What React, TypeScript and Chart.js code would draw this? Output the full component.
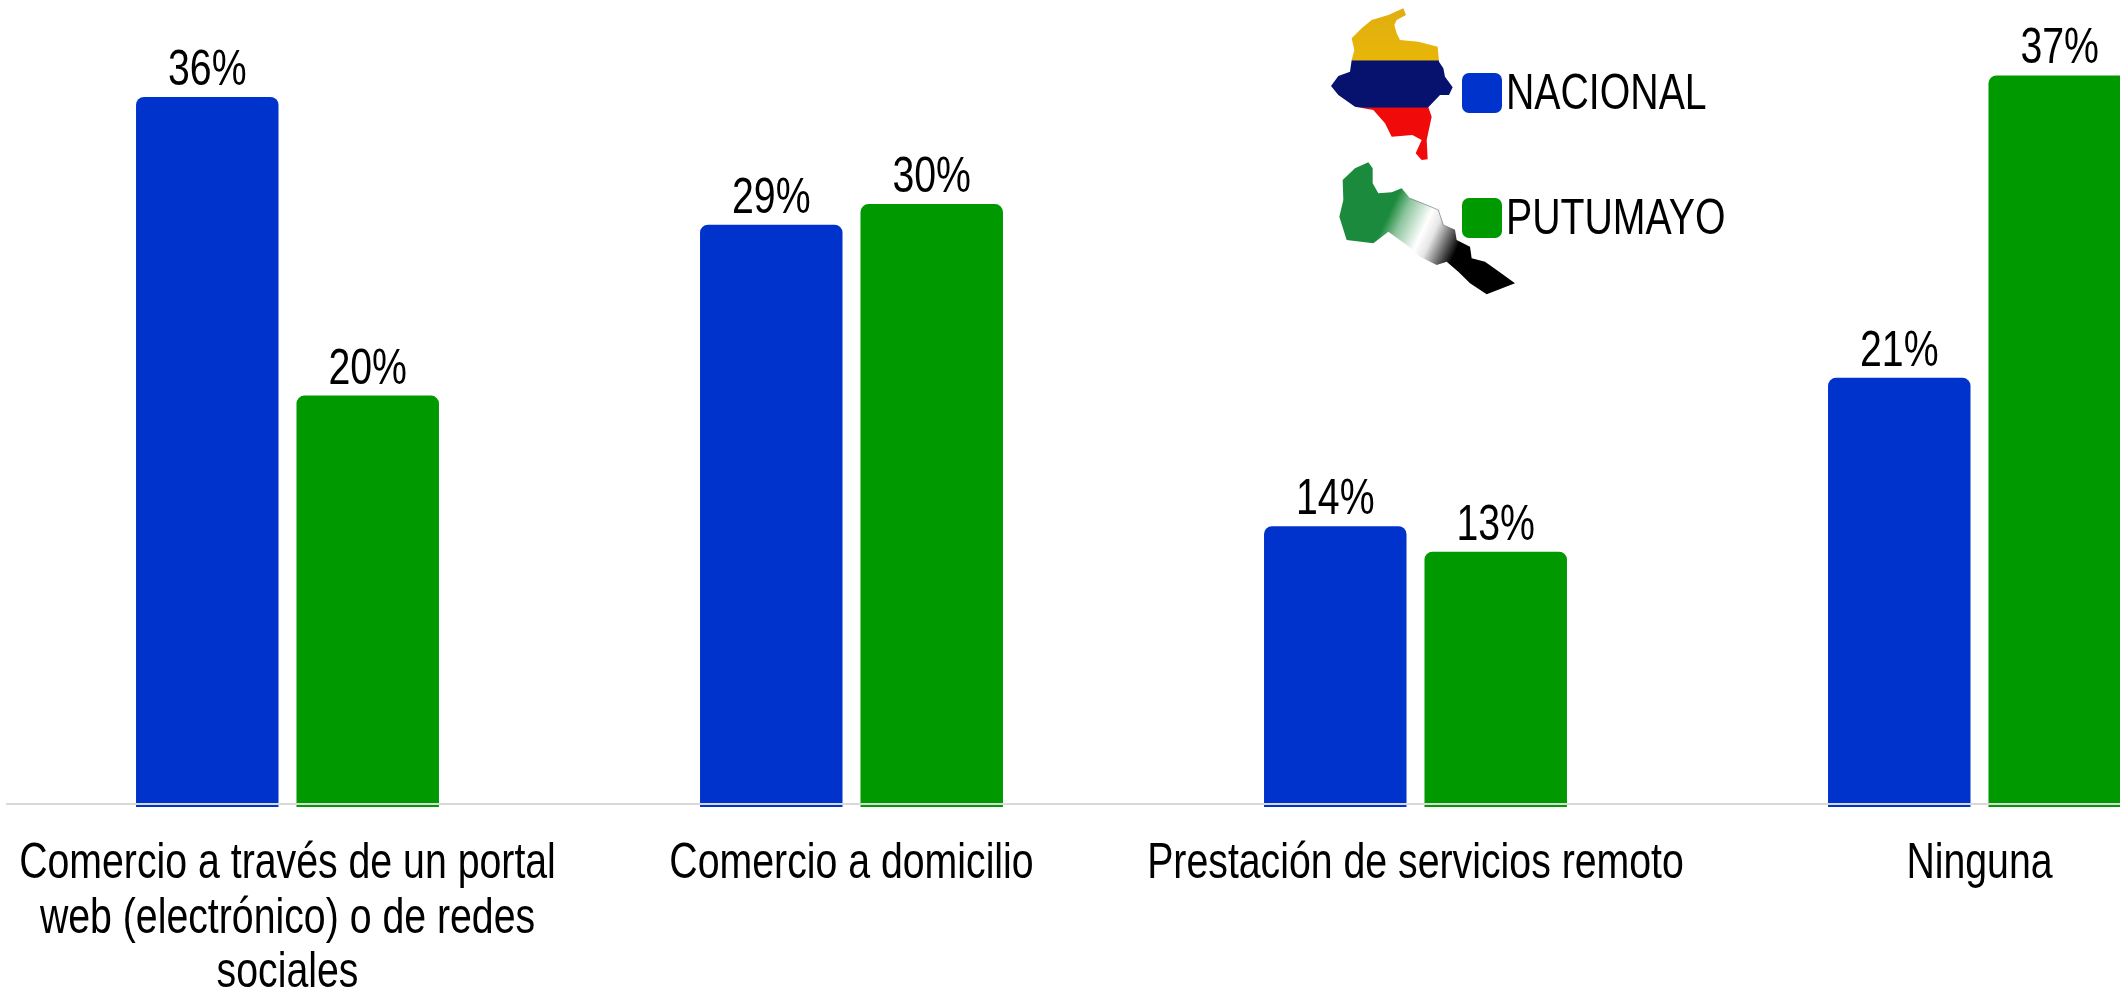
import React, { useEffect, useRef } from "react";
import { Chart, registerables } from "chart.js";

Chart.register(...registerables);

const categories = [
  ["Comercio a través de un portal", "web (electrónico) o de redes", "sociales"],
  ["Comercio a domicilio"],
  ["Prestación de servicios remoto"],
  ["Ninguna"],
];
const nacional = [36, 29.5, 14.15, 21.7];
const putumayo = [20.8, 30.55, 12.85, 37.1];
const nacionalLabels = ["36%", "29%", "14%", "21%"];
const putumayoLabels = ["20%", "30%", "13%", "37%"];
const seriesNames = ["NACIONAL", "PUTUMAYO"];
const seriesColors = ["#0033cc", "#009900"];

const FONT = '"Liberation Sans", Arial, sans-serif';
const FONT_SIZE = 50;
const CONDENSE = 0.785;
const LINE_GAP = 54.5;

const colombia = [[235,25],[243,45],[215,60],[208,75],[215,100],[225,120],[280,125],[338,140],[342,185],[355,205],[360,230],[383,262],[372,285],[345,285],[310,322],[320,350],[305,420],[308,478],[290,480],[272,460],[290,420],[262,405],[200,410],[180,370],[145,330],[90,320],[40,285],[18,258],[40,228],[75,215],[80,180],[88,150],[80,115],[110,85],[140,60],[190,45]];
const putumayoMap = [[115,22],[128,40],[128,85],[145,115],[185,112],[215,100],[240,130],[290,150],[325,165],[340,210],[375,225],[380,255],[420,275],[425,310],[465,320],[500,345],[555,385],[470,418],[420,385],[385,350],[350,320],[320,330],[270,305],[230,270],[175,230],[130,265],[50,255],[28,185],[40,135],[38,75],[75,40]];

function tracePoly(ctx: CanvasRenderingContext2D, pts: number[][], ox: number, oy: number) {
  ctx.beginPath();
  pts.forEach(([x, y], i) => {
    const px = ox + x / 3;
    const py = oy + y / 3;
    if (i) ctx.lineTo(px, py);
    else ctx.moveTo(px, py);
  });
  ctx.closePath();
}

function condensedText(ctx: CanvasRenderingContext2D, text: string, x: number, y: number, align: CanvasTextAlign) {
  ctx.save();
  ctx.translate(x, y);
  ctx.scale(CONDENSE, 1);
  ctx.font = `${FONT_SIZE}px ${FONT}`;
  ctx.textAlign = align;
  ctx.textBaseline = "alphabetic";
  ctx.fillStyle = "#000";
  ctx.fillText(text, 0, 0);
  ctx.restore();
}

const mapsPlugin = {
  id: "maps",
  afterDraw(chart: any) {
    const ctx = chart.ctx as CanvasRenderingContext2D;
    ctx.save();
    ctx.filter = "blur(0.7px)";
    tracePoly(ctx, colombia, 1325, 0);
    const flag = ctx.createLinearGradient(0, 8, 0, 160);
    flag.addColorStop(0, "#e0ae10");
    flag.addColorStop(0.34, "#e8b608");
    flag.addColorStop(0.35, "#06126e");
    flag.addColorStop(0.65, "#06126e");
    flag.addColorStop(0.66, "#f00a0a");
    flag.addColorStop(1, "#f00a0a");
    ctx.fillStyle = flag;
    ctx.fill();

    tracePoly(ctx, putumayoMap, 1330, 155);
    const g = ctx.createLinearGradient(1330 + 170 / 3, 155 + 190 / 3, 1330 + 385 / 3, 155 + 290 / 3);
    g.addColorStop(0, "#1c8a3c");
    g.addColorStop(0.18, "#8cc49c");
    g.addColorStop(0.48, "#ffffff");
    g.addColorStop(0.62, "#e6e6e6");
    g.addColorStop(0.97, "#000000");
    g.addColorStop(1, "#000000");
    ctx.fillStyle = g;
    ctx.fill();
    ctx.strokeStyle = "rgba(90,90,90,0.55)";
    ctx.lineWidth = 1;
    ctx.beginPath();
    [[240,130],[290,150],[325,165],[340,210],[375,225]].forEach(([x, y], i) => {
      const px = 1330 + x / 3;
      const py = 155 + y / 3;
      if (i) ctx.lineTo(px, py);
      else ctx.moveTo(px, py);
    });
    ctx.stroke();
    ctx.restore();
  },
};

const legendPlugin = {
  id: "sideLegend",
  afterDraw(chart: any) {
    const ctx = chart.ctx as CanvasRenderingContext2D;
    const rows = [73, 198];
    chart.data.datasets.forEach((ds: any, i: number) => {
      ctx.save();
      ctx.fillStyle = ds.backgroundColor;
      ctx.beginPath();
      ctx.roundRect(1462, rows[i], 40, 40, 7);
      ctx.fill();
      ctx.restore();
      condensedText(ctx, ds.label, 1506, rows[i] + 36, "left");
    });
  },
};

const valueLabelPlugin = {
  id: "valueLabels",
  afterDatasetsDraw(chart: any) {
    const ctx = chart.ctx as CanvasRenderingContext2D;
    const sets = [nacionalLabels, putumayoLabels];
    chart.data.datasets.forEach((_: any, d: number) => {
      chart.getDatasetMeta(d).data.forEach((bar: any, i: number) => {
        condensedText(ctx, sets[d][i], bar.x, bar.y - 12, "center");
      });
    });
  },
};

const categoryLabelPlugin = {
  id: "categoryLabels",
  afterDatasetsDraw(chart: any) {
    const ctx = chart.ctx as CanvasRenderingContext2D;
    const scale = chart.scales.x;
    chart.data.labels.forEach((lines: string[], i: number) => {
      const x = scale.getPixelForTick(i);
      lines.forEach((line, n) => condensedText(ctx, line, x, 878 + n * LINE_GAP, "center"));
    });
  },
};

export default function App() {
  const ref = useRef<HTMLCanvasElement>(null);

  useEffect(() => {
    const radius = { topLeft: 8, topRight: 8, bottomLeft: 0, bottomRight: 0 };
    const chart = new Chart(ref.current!, {
      type: "bar",
      data: {
        labels: categories as any,
        datasets: [
          { label: seriesNames[0], data: nacional, backgroundColor: seriesColors[0], base: -0.15, borderRadius: radius, borderSkipped: false },
          { label: seriesNames[1], data: putumayo, backgroundColor: seriesColors[1], base: -0.15, borderRadius: radius, borderSkipped: false },
        ] as any,
      },
      plugins: [valueLabelPlugin, categoryLabelPlugin, legendPlugin, mapsPlugin],
      options: {
        animation: false,
        responsive: false,
        layout: { padding: { left: 5.5, right: 8.5, top: 0, bottom: 0 } },
        plugins: { legend: { display: false }, tooltip: { enabled: false }, title: { display: false } },
        datasets: { bar: { categoryPercentage: 0.569, barPercentage: 0.888 } },
        scales: {
          x: {
            afterFit(scale: any) {
              scale.height = 185;
              scale.paddingLeft = 0;
              scale.paddingRight = 0;
            },
            grid: { display: false },
            border: { display: false },
            ticks: { display: false, autoSkip: false, maxRotation: 0, minRotation: 0 },
          },
          y: {
            min: -0.15,
            max: 40.94,
            afterBuildTicks(scale: any) { scale.ticks = [{ value: 0 }]; },
            afterFit(scale: any) { scale.width = 0; },
            ticks: { display: false },
            border: { display: false },
            grid: { color: "#d9d9d9", lineWidth: 2, drawTicks: false, z: 1 },
          },
        },
      } as any,
    });
    return () => chart.destroy();
  }, []);

  return (
    <div style={{ position: "fixed", left: 0, top: 0, width: 2120, height: 992, overflow: "hidden", background: "#fff" }}>
      <canvas ref={ref} width={2270} height={992} style={{ display: "block" }} />
    </div>
  );
}
